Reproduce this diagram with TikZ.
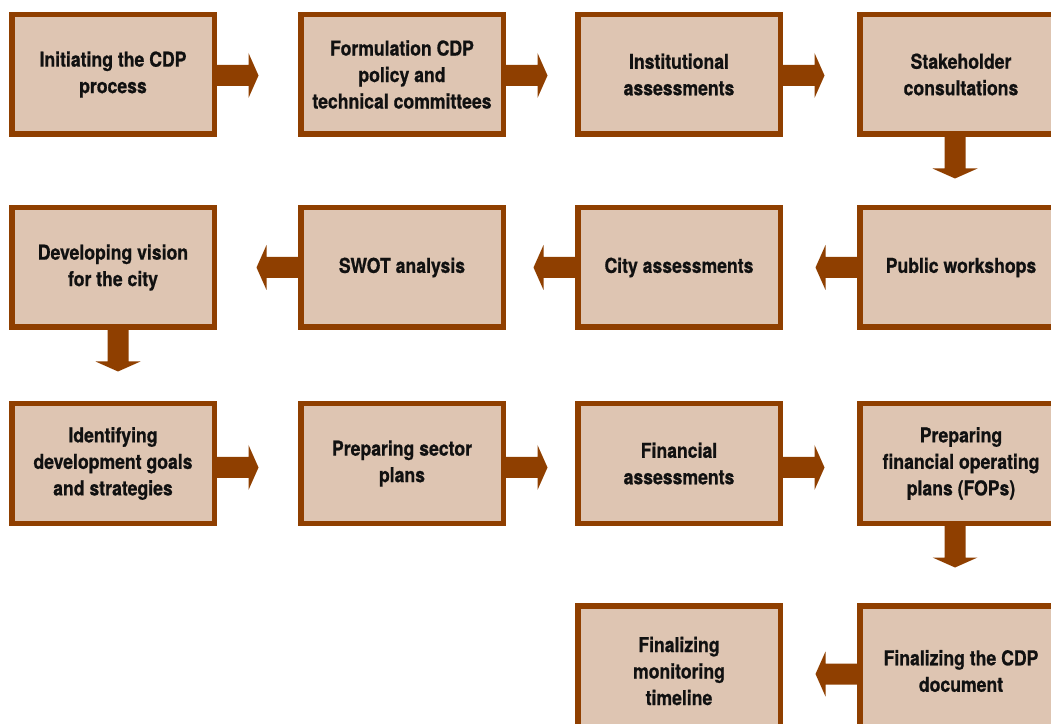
\documentclass[tikz,border=0pt]{standalone}
\usepackage{fontspec}
\setmainfont{TeX Gyre Heros}[FakeStretch=0.86, BoldFeatures={FakeBold=0.8}]
\usetikzlibrary{calc}
\definecolor{brd}{HTML}{8F3F00}
\definecolor{fil}{HTML}{DEC5B2}
\definecolor{txt}{HTML}{111111}
\tikzset{
  stepbox/.style={draw=brd, fill=fil, line width=5.5pt, minimum width=202.5pt,
    minimum height=119.5pt, inner sep=0pt, align=center, text=txt,
    font=\bfseries\fontsize{20.5}{26.5}\selectfont},
  lastbox/.style={stepbox, minimum height=130.5pt},
  arr/.style={fill=brd, draw=none},
  blockarrow/.pic={\fill[arr] (0pt,-10.5pt) -- (31.5pt,-10.5pt) -- (31.5pt,-22.5pt)
     -- (41.5pt,0pt) -- (31.5pt,22.5pt) -- (31.5pt,10.5pt) -- (0pt,10.5pt) -- cycle;}
}
\begin{document}
\begin{tikzpicture}[x=1pt,y=1pt]
\useasboundingbox (0,0) rectangle (1051,723);
\clip (0,0) rectangle (1051,723);
% row 1
\node[stepbox] (a1) at (113,648.5) {Initiating the CDP\\process};
\node[stepbox] (a2) at (402,648.5) {Formulation CDP\\policy and\\technical committees};
\node[stepbox] (a3) at (679,648.5) {Institutional\\assessments};
\node[stepbox] (a4) at (961,648.5) {Stakeholder\\consultations};
% row 2
\node[stepbox] (b1) at (113,455.5) {Developing vision\\for the city};
\node[stepbox] (b2) at (402,455.5) {SWOT analysis};
\node[stepbox] (b3) at (679,455.5) {City assessments};
\node[stepbox] (b4) at (961,455.5) {Public workshops};
% row 3
\node[stepbox] (c1) at (113,259.5) {Identifying\\development goals\\and strategies};
\node[stepbox] (c2) at (402,259.5) {Preparing sector\\plans};
\node[stepbox] (c3) at (679,259.5) {Financial\\assessments};
\node[stepbox] (c4) at (961,259.5) {Preparing\\financial operating\\plans (FOPs)};
% row 4
\node[lastbox] (d3) at (679,52) {Finalizing\\monitoring\\timeline};
\node[lastbox] (d4) at (961,52) {Finalizing the CDP\\document};
% arrows row 1
\pic at ([yshift=-1pt]a1.east) {blockarrow};
\pic at ([yshift=-1pt]a2.east) {blockarrow};
\pic at ([yshift=-1pt]a3.east) {blockarrow};
\pic[rotate=-90] at ([xshift=-6pt]a4.south) {blockarrow};
% arrows row 2
\pic[xscale=-1] at (b4.west) {blockarrow};
\pic[xscale=-1] at (b3.west) {blockarrow};
\pic[xscale=-1] at (b2.west) {blockarrow};
\pic[rotate=-90] at ([xshift=5pt]b1.south) {blockarrow};
% arrows row 3
\pic at ([yshift=-4pt]c1.east) {blockarrow};
\pic at ([yshift=-4pt]c2.east) {blockarrow};
\pic at ([yshift=-4pt]c3.east) {blockarrow};
\pic[rotate=-90] at ([xshift=-6pt]c4.south) {blockarrow};
% arrows row 4
\pic[xscale=-1] at ([yshift=-3pt]d4.west) {blockarrow};
\end{tikzpicture}
\end{document}
